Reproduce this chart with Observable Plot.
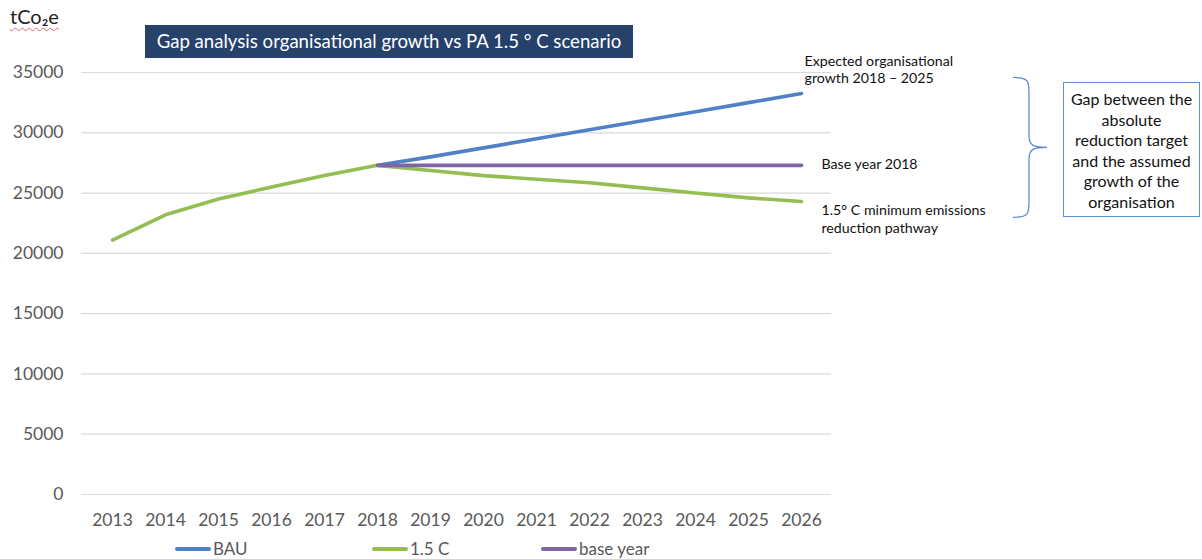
<!DOCTYPE html>
<html>
<head>
<meta charset="utf-8">
<script src="https://cdn.jsdelivr.net/npm/d3@7"></script>
<script src="https://cdn.jsdelivr.net/npm/@observablehq/plot@0.6"></script>
<style>
  html, body { margin: 0; padding: 0; background: #fff; }
  body { width: 1202px; height: 559px; overflow: hidden; font-family: Lato, "Open Sans", sans-serif; }
  #wrap { position: relative; width: 1202px; height: 559px; }
  #ylab { position: absolute; left: 10px; top: 4px; font-size: 20px; color: #222;
          text-decoration: underline wavy #e06666; text-decoration-thickness: 1px; text-underline-offset: 3px; }
  #title { position: absolute; left: 145px; top: 25px; width: 488px; height: 33px; background: #26426a;
           color: #fff; font-size: 18.6px; line-height: 33px; text-align: center; white-space: nowrap; }
  #gapbox { position: absolute; left: 1063px; top: 82px; width: 137px; height: 135px;
            border: 1.5px solid #5b8fd0; font-size: 16px; line-height: 20.6px; text-align: center;
            color: #111; padding-top: 6px; box-sizing: border-box; }
  #legend { position: absolute; top: 538px; left: 0; width: 1202px; height: 22px; font-size: 17px; color: #595959; }
  .li { position: absolute; display: flex; align-items: center; }
  .sw { width: 36px; height: 4px; border-radius: 2px; margin-right: 2px; }
  #chart { position: absolute; left: 0; top: 0; }
</style>
</head>
<body>
<div id="wrap">
  <div id="chart"></div>
  <div id="ylab">tCo₂e</div>
  <div id="title">Gap analysis organisational growth vs PA 1.5 ° C scenario</div>
  <div id="gapbox"></div>
  <div id="legend"></div>
</div>
<script>
// ---- data ----
const years = [2013, 2014, 2015, 2016, 2017, 2018, 2019, 2020, 2021, 2022, 2023, 2024, 2025, 2026];
const bau = [null, null, null, null, null, 27300, 28000, 28750, 29500, 30250, 31000, 31750, 32500, 33250];
const pathway15 = [21100, 23200, 24500, 25500, 26450, 27300, 26870, 26450, 26150, 25850, 25430, 25000, 24600, 24300];
const baseYear = [null, null, null, null, null, 27300, 27300, 27300, 27300, 27300, 27300, 27300, 27300, 27300];
const yTicks = [0, 5000, 10000, 15000, 20000, 25000, 30000, 35000];
const seriesNames = ["BAU", "1.5 C", "base year"];
const seriesColors = ["#4f81c6", "#94bd52", "#8064a7"];
const annotations = [
  {series: "BAU", lines: ["Expected organisational", "growth 2018 – 2025"]},
  {series: "base year", lines: ["Base year 2018"]},
  {series: "1.5 C", lines: ["1.5° C minimum emissions", "reduction pathway"]}
];
const gapText = ["Gap between the", "absolute", "reduction target", "and the assumed", "growth of the", "organisation"];

// ---- build table ----
const seriesValues = [bau, pathway15, baseYear];
const rows = [];
seriesNames.forEach((s, i) => years.forEach((yr, j) => {
  rows.push({series: s, year: yr, value: seriesValues[i][j]});
}));
const lastYear = years[years.length - 1];
const lastVal = s => seriesValues[seriesNames.indexOf(s)][years.length - 1];

const annRows = [];
annotations.forEach(a => a.lines.forEach((t, k) => annRows.push({series: a.series, text: t, k, n: a.lines.length, value: lastVal(a.series)})));

const annDy = {"BAU": [-32, -15], "base year": [-1], "1.5 C": [9, 27]};
const annDx = {"BAU": 3, "base year": 20, "1.5 C": 20};

const chart = Plot.plot({
  width: 1202,
  height: 535,
  marginTop: 72,
  marginBottom: 41,
  marginLeft: 81,
  marginRight: 371,
  style: {fontFamily: "Lato, 'Open Sans', sans-serif", background: "transparent", overflow: "visible"},
  x: {type: "point", domain: years, padding: 0.5, label: null, tickSize: 0, tickPadding: 19, tickFormat: d => String(d)},
  y: {domain: [0, 35000], label: null, ticks: yTicks, tickSize: 0, tickPadding: 18, tickFormat: d => String(d)},
  color: {domain: seriesNames, range: seriesColors},
  marks: [
    Plot.ruleY(yTicks, {stroke: "#d9d9d9", strokeWidth: 1.2}),
    Plot.axisX({tickSize: 0, tickPadding: 19, fontSize: 17.5, fill: "#595959", tickFormat: d => String(d)}),
    Plot.axisY({ticks: yTicks, tickSize: 0, tickPadding: 18, fontSize: 17.5, fill: "#595959", tickFormat: d => String(d)}),
    ...seriesNames.map((s, i) => Plot.line(rows.filter(r => r.series === s), {
      x: "year", y: "value", stroke: seriesColors[i], strokeWidth: 3.6,
      strokeLinecap: "round", strokeLinejoin: "round"
    })),
    ...annRows.map(r => Plot.text([r], {
      x: () => lastYear, y: "value", text: "text", textAnchor: "start",
      dx: annDx[r.series], dy: annDy[r.series][r.k], fontSize: 14.2, fill: "#111"
    }))
  ]
});
document.getElementById("chart").appendChild(chart);

// curly brace spanning the gap between the growth line and the pathway
const ys = chart.scale("y");
const svg = d3.select(chart);
const yTop = ys.apply(34550), yBot = ys.apply(22950), yMid = (yTop + yBot) / 2;
const x0 = 1013, x1 = 1029, xt = 1047;
const brace = `M${x0},${yTop} C${x1},${yTop} ${x1},${yTop + 4} ${x1},${yTop + 16}
  L${x1},${yMid - 12} C${x1},${yMid - 2} ${x1 + 4},${yMid} ${xt},${yMid}
  C${x1 + 4},${yMid} ${x1},${yMid + 2} ${x1},${yMid + 12}
  L${x1},${yBot - 16} C${x1},${yBot - 4} ${x1},${yBot} ${x0},${yBot}`;
svg.append("path").attr("d", brace).attr("fill", "none").attr("stroke", "#5b8fd0").attr("stroke-width", 1.3);

// gap box text
const box = document.getElementById("gapbox");
gapText.forEach(t => { const d = document.createElement("div"); d.textContent = t; box.appendChild(d); });

// legend
const legendPos = [175, 372, 541];
const legend = document.getElementById("legend");
seriesNames.forEach((s, i) => {
  const it = document.createElement("div");
  it.className = "li";
  it.style.left = legendPos[i] + "px";
  const sw = document.createElement("div");
  sw.className = "sw"; sw.style.background = seriesColors[i];
  const tx = document.createElement("span"); tx.textContent = s;
  it.appendChild(sw); it.appendChild(tx);
  legend.appendChild(it);
});
</script>
</body>
</html>
